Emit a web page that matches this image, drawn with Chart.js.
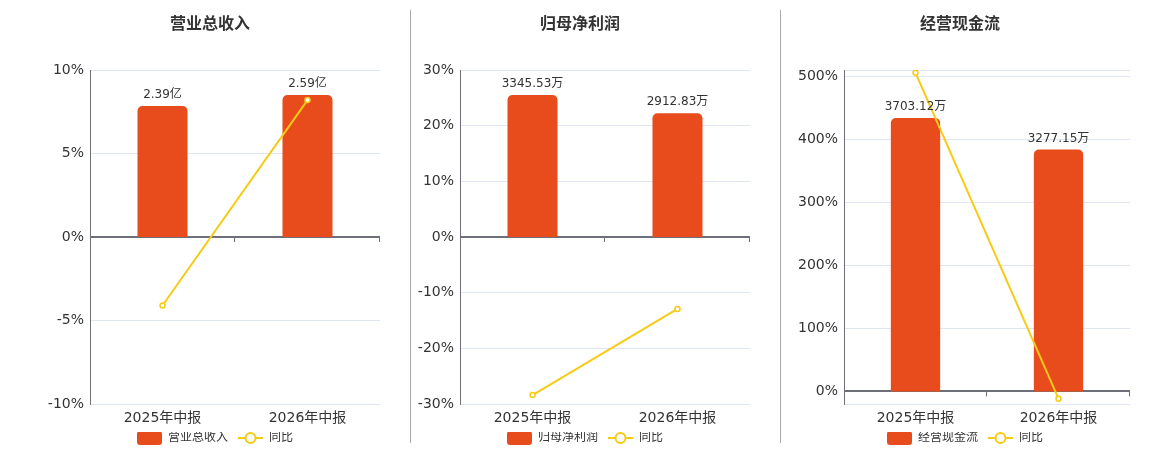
<!DOCTYPE html>
<html>
<head>
<meta charset="utf-8">
<script src="https://cdn.jsdelivr.net/npm/chart.js@4"></script>
<style>
  body { margin: 0; background: #fff; width: 1160px; height: 450px; position: relative; overflow: hidden;
         font-family: "DejaVu Sans", "Noto Sans CJK SC", sans-serif; }
  .panel { position: absolute; top: 0; width: 380px; height: 450px; }
  .title { position: absolute; top: 11px; left: 0; width: 100%; text-align: center;
           font: bold 16px "Noto Sans CJK SC", sans-serif; color: #333; line-height: 22px; }
  .divider { position: absolute; top: 10px; height: 433px; width: 1px; background: #aaa; }
</style>
</head>
<body>
<div class="panel" style="left:20px"><div class="title">营业总收入</div><canvas id="c1" width="380" height="450"></canvas></div>
<div class="panel" style="left:390px"><div class="title">归母净利润</div><canvas id="c2" width="380" height="450"></canvas></div>
<div class="panel" style="left:770px"><div class="title">经营现金流</div><canvas id="c3" width="380" height="450"></canvas></div>
<div class="divider" style="left:410px"></div>
<div class="divider" style="left:780px"></div>
<script>
// ===== data =====
const categories = ['2025年中报', '2026年中报'];

const revenueValues = [2.39, 2.59];          // 亿
const revenueLabels = ['2.39亿', '2.59亿'];
const revenueYoy = [-4.1, 8.2];              // %
const revenueTicks = [-10, -5, 0, 5, 10];

const profitValues = [3345.53, 2912.83];     // 万
const profitLabels = ['3345.53万', '2912.83万'];
const profitYoy = [-28.4, -12.93];
const profitTicks = [-30, -20, -10, 0, 10, 20, 30];

const cashValues = [3703.12, 3277.15];       // 万
const cashLabels = ['3703.12万', '3277.15万'];
const cashYoy = [505.5, -11.6];
const cashTicks = [0, 100, 200, 300, 400, 500];
const cashRange = [-20, 510];

// ===== styles =====
const BAR = '#e84c1d';
const LINE = '#f5cb14';
const AXIS = '#6e7079';
const GRID = '#e0e6f1';
const TEXT = '#333';
const FONT = '"DejaVu Sans", "Noto Sans CJK SC", sans-serif';

// legend icons (transparent gap on the left keeps items apart)
function barIcon() {
  const c = document.createElement('canvas');
  c.width = 35; c.height = 14;
  const x = c.getContext('2d');
  x.fillStyle = BAR;
  x.beginPath(); x.roundRect(10, 0, 25, 14, 3); x.fill();
  return c;
}
function lineIcon() {
  const c = document.createElement('canvas');
  c.width = 35; c.height = 14;
  const x = c.getContext('2d');
  x.strokeStyle = LINE; x.lineWidth = 2;
  x.beginPath(); x.moveTo(10, 7); x.lineTo(35, 7); x.stroke();
  x.fillStyle = '#fff';
  x.beginPath(); x.arc(22.5, 7, 5, 0, Math.PI * 2); x.fill(); x.stroke();
  return c;
}

// value labels above bars + small ticks on the zero line
const barLabelPlugin = {
  id: 'barLabels',
  afterDatasetsDraw(chart) {
    const ctx = chart.ctx;
    const meta = chart.getDatasetMeta(1);
    const labels = chart.options.plugins.barLabels.labels;
    ctx.save();
    ctx.font = '12px ' + FONT;
    ctx.fillStyle = TEXT;
    ctx.textAlign = 'center';
    ctx.textBaseline = 'bottom';
    meta.data.forEach((el, i) => ctx.fillText(labels[i], el.x, el.y - 5));
    const xs = chart.scales.x, y0 = chart.scales.y.getPixelForValue(0);
    ctx.strokeStyle = AXIS; ctx.lineWidth = 1;
    const n = categories.length;
    for (let i = 1; i <= n; i++) {
      const px = Math.round(xs.left + i * (xs.right - xs.left) / n) - 0.5;
      ctx.beginPath(); ctx.moveTo(px, y0); ctx.lineTo(px, y0 + 5); ctx.stroke();
    }
    ctx.restore();
  }
};

function makeChart(id, name, values, labels, yoy, ticks, range, axisWidth) {
  const yMin = range[0], yMax = range[1];
  const y1Max = Math.max(...values) * 1.176;
  const y1Min = y1Max * yMin / yMax;
  const bounds = [yMin, ...ticks.filter(t => t > yMin && t < yMax), yMax];

  new Chart(document.getElementById(id), {
    type: 'bar',
    data: {
      labels: categories,
      datasets: [
        {
          type: 'line', label: '同比', data: yoy, yAxisID: 'y', order: 0,
          borderColor: LINE, borderWidth: 2, backgroundColor: '#fff',
          pointRadius: 2.5, pointBorderWidth: 1.5, pointBorderColor: LINE, pointBackgroundColor: '#fff'
        },
        {
          type: 'bar', label: name, data: values, yAxisID: 'y1', order: 1,
          backgroundColor: BAR, barPercentage: 0.345, categoryPercentage: 1,
          borderRadius: { topLeft: 5, topRight: 5, bottomLeft: 0, bottomRight: 0 }, borderSkipped: 'bottom'
        }
      ]
    },
    options: {
      responsive: false,
      animation: false,
      layout: { padding: { top: 70, right: 0, bottom: -4, left: 0 } },
      scales: {
        x: {
          grid: { display: false, drawTicks: false },
          border: { display: false },
          ticks: { color: TEXT, font: { size: 14, family: FONT, lineHeight: 1 }, padding: 7 }
        },
        y: {
          min: yMin, max: yMax,
          afterBuildTicks: s => { s.ticks = bounds.map(v => ({ value: v })); },
          afterFit: s => { s.width = axisWidth; },
          border: { display: true, color: AXIS, width: 1 },
          grid: {
            drawTicks: false,
            color: c => c.tick && c.tick.value === 0 ? AXIS : GRID,
            lineWidth: c => c.tick && c.tick.value === 0 ? 2 : 1
          },
          ticks: {
            color: TEXT, font: { size: 14, family: FONT }, padding: 6,
            callback: v => ticks.includes(v) ? v + '%' : ''
          }
        },
        y1: {
          display: true, position: 'right', min: y1Min, max: y1Max,
          grid: { display: false, drawTicks: false }, border: { display: false },
          ticks: { display: false },
          afterFit: s => { s.width = 20; }
        }
      },
      plugins: {
        tooltip: { enabled: false },
        barLabels: { labels },
        legend: {
          position: 'bottom',
          labels: {
            usePointStyle: true, pointStyleWidth: 35, padding: 0,
            color: TEXT, font: { size: 12, family: FONT, lineHeight: 1 },
            generateLabels: () => [
              { text: name, pointStyle: barIcon(), datasetIndex: 1, fontColor: TEXT, lineWidth: 0, strokeStyle: 'transparent', fillStyle: BAR },
              { text: '同比', pointStyle: lineIcon(), datasetIndex: 0, fontColor: TEXT, lineWidth: 0, strokeStyle: 'transparent', fillStyle: LINE }
            ]
          }
        }
      }
    },
    plugins: [barLabelPlugin]
  });
}

makeChart('c1', '营业总收入', revenueValues, revenueLabels, revenueYoy, revenueTicks, [-10, 10], 70);
makeChart('c2', '归母净利润', profitValues, profitLabels, profitYoy, profitTicks, [-30, 30], 70);
makeChart('c3', '经营现金流', cashValues, cashLabels, cashYoy, cashTicks, cashRange, 74);
</script>
</body>
</html>
